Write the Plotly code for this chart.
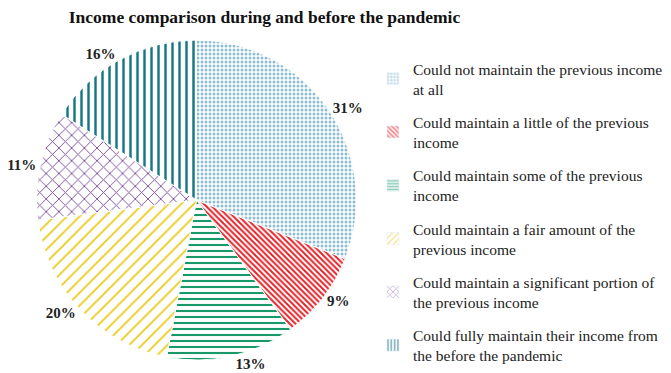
import plotly.graph_objects as go

categories = [
    "Could not maintain the previous income<br>at all",
    "Could maintain a little of the previous<br>income",
    "Could maintain some of the previous<br>income",
    "Could maintain a fair amount of the<br>previous income",
    "Could maintain a significant portion of<br>the previous income",
    "Could fully maintain their income from<br>the before the pandemic",
]
values = [31, 9, 13, 20, 11, 16]

fg_colors = ["#8dbdd0", "#e0262b", "#17996a", "#eccb1c", "#7d4f9c", "#177683"]
shapes = [".", "\\", "-", "/", "x", "|"]
sizes = [4, 4, 6, 9, 9, 7]
solidity = [0.45, 0.5, 0.35, 0.2, 0.2, 0.35]

fig = go.Figure()
fig.add_trace(go.Pie(
    labels=categories,
    values=values,
    sort=False,
    direction="clockwise",
    rotation=0,
    textposition="outside",
    texttemplate="<b>%{percent:.0%}</b>",
    textfont=dict(family="Liberation Serif", size=15, color="#222222"),
    marker=dict(
        colors=["white"] * 6,
        line=dict(color="white", width=1),
        pattern=dict(shape=shapes, fgcolor=fg_colors, bgcolor="white",
                     size=sizes, solidity=solidity, fillmode="replace"),
    ),
    domain=dict(x=[0.0430, 0.5256], y=[0.0356, 0.9123]),
    hoverinfo="skip",
    showlegend=False,
))

# legend entries (no visible marks), one group each so they can be spaced
for i, name in enumerate(categories):
    fig.add_trace(go.Bar(
        x=[None], y=[None], name=name, legendgroup=f"g{i}",
        marker=dict(color="white",
                    pattern=dict(shape=shapes[i], fgcolor=fg_colors[i], bgcolor="white",
                                 size=sizes[i] * 0.6 if sizes[i] > 5 else sizes[i],
                                 solidity=min(0.6, solidity[i] * 1.6))),
        hoverinfo="skip",
    ))

fig.update_layout(
    width=663, height=365,
    margin=dict(l=0, r=0, t=0, b=0, autoexpand=False),
    paper_bgcolor="white",
    plot_bgcolor="white",
    xaxis=dict(visible=False),
    yaxis=dict(visible=False),
    title=dict(text="<b>Income comparison during and before the pandemic</b>",
               x=0.3869, xanchor="center", y=0.975, yanchor="middle",
               font=dict(family="Liberation Serif", size=17.5, color="#111111")),
    legend=dict(x=0.5505, y=0.8795, xanchor="left", yanchor="top",
                traceorder="grouped", tracegroupgap=10,
                font=dict(family="Liberation Serif", size=15.5, color="#222222"),
                itemwidth=30),
    showlegend=True,
)

fig.write_html("out.html")
